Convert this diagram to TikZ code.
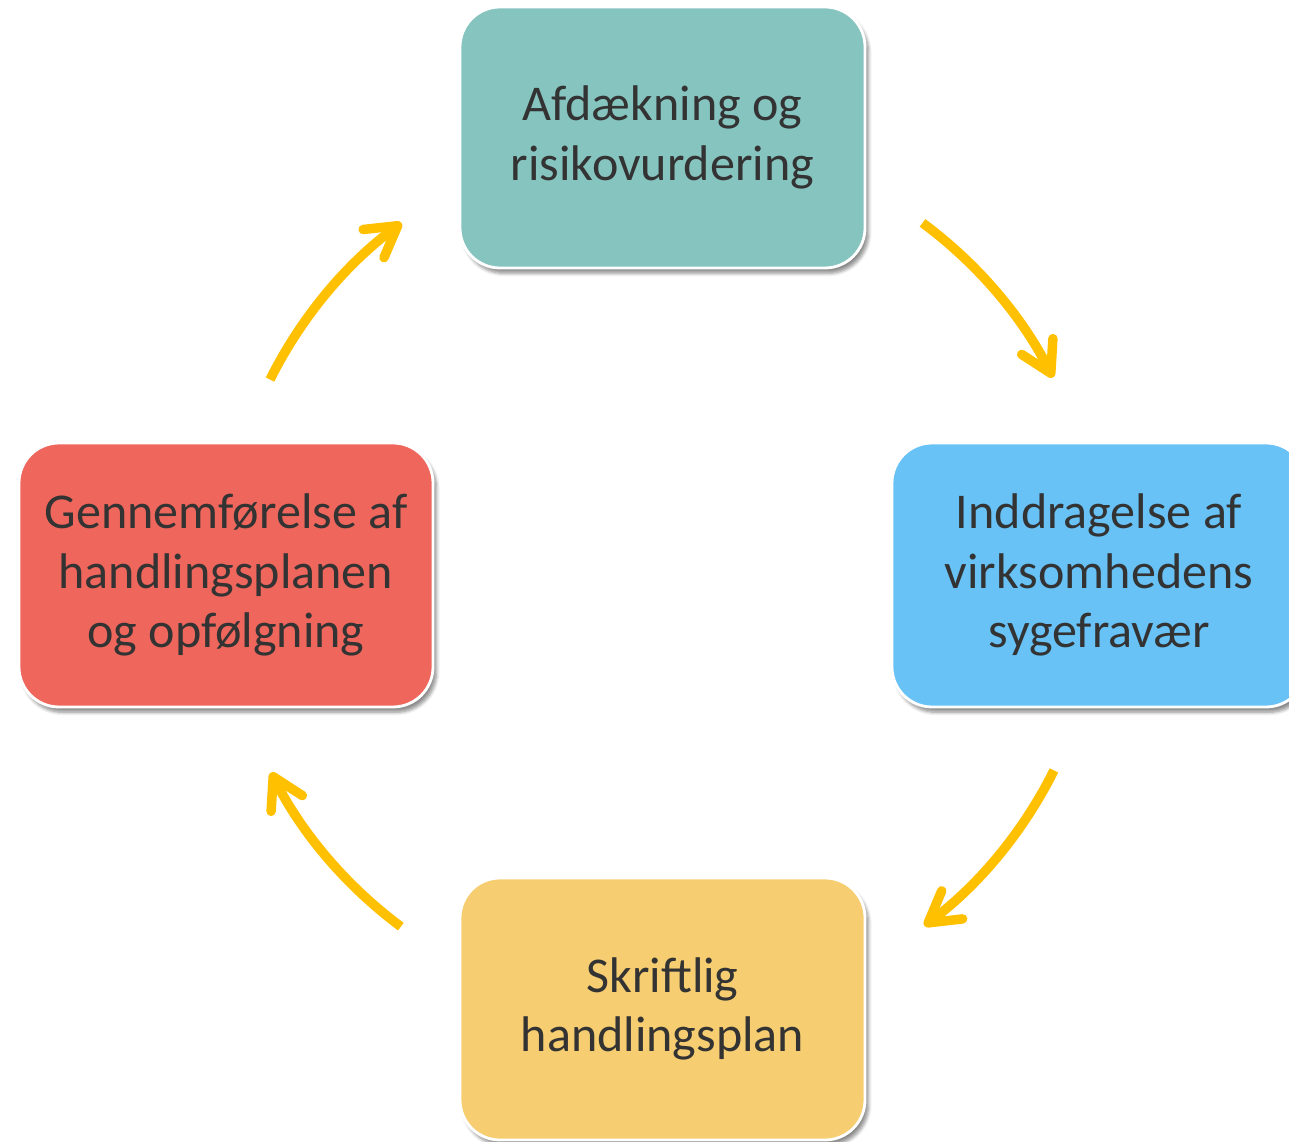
\documentclass[tikz,border=0pt]{standalone}
\usepackage{fontspec}
\setmainfont{Carlito}
\usetikzlibrary{arrows.meta, calc, shadows.blur}
\definecolor{afdcol}{HTML}{86C4C0}
\definecolor{inddcol}{HTML}{68C2F6}
\definecolor{skrcol}{HTML}{F6CE71}
\definecolor{genncol}{HTML}{EF675C}
\definecolor{pilcol}{HTML}{FFC000}
\definecolor{tekstcol}{HTML}{333333}

\begin{document}
\begin{tikzpicture}[
  stage/.style={draw=white, line width=1.6pt, rounded corners=0.8cm, text=tekstcol,
    align=center, font=\fontsize{28.5}{34}\selectfont,
    blur shadow={shadow xshift=2pt, shadow yshift=-3pt, shadow opacity=45, shadow blur steps=6}},
  cyclearrow/.style={draw=pilcol, line width=5.4pt, -{Straight Barb[round, length=6mm, width=7mm]}}
]
\clip (0,0) rectangle (25.78,22.84);
% de fire trin
\node[stage, fill=afdcol, minimum width=8.1cm, minimum height=5.22cm] (afd) at (13.25,20.09) {Afdækning og\\risikovurdering};
\node[stage, fill=inddcol, minimum width=8.28cm, minimum height=5.28cm] (indd) at (21.98,11.34) {Inddragelse af\\virksomhedens\\sygefravær};
\node[stage, fill=skrcol, minimum width=8.1cm, minimum height=5.24cm] (skr) at (13.25,2.66) {Skriftlig\\handlingsplan};
\node[stage, fill=genncol, minimum width=8.28cm, minimum height=5.28cm] (genn) at (4.52,11.34) {Gennemførelse af\\handlingsplanen\\og opfølgning};
% pilene i kredsen
\coordinate (midt) at (13.24,11.34);
\foreach \s/\e in {53.5/26.8, -26.5/-53.2, -126.6/-153.2, 153.5/126.5}
  \draw[cyclearrow] ($(midt)+(\s:8.76)$) arc[start angle=\s, end angle=\e, radius=8.76];
\end{tikzpicture}
\end{document}
